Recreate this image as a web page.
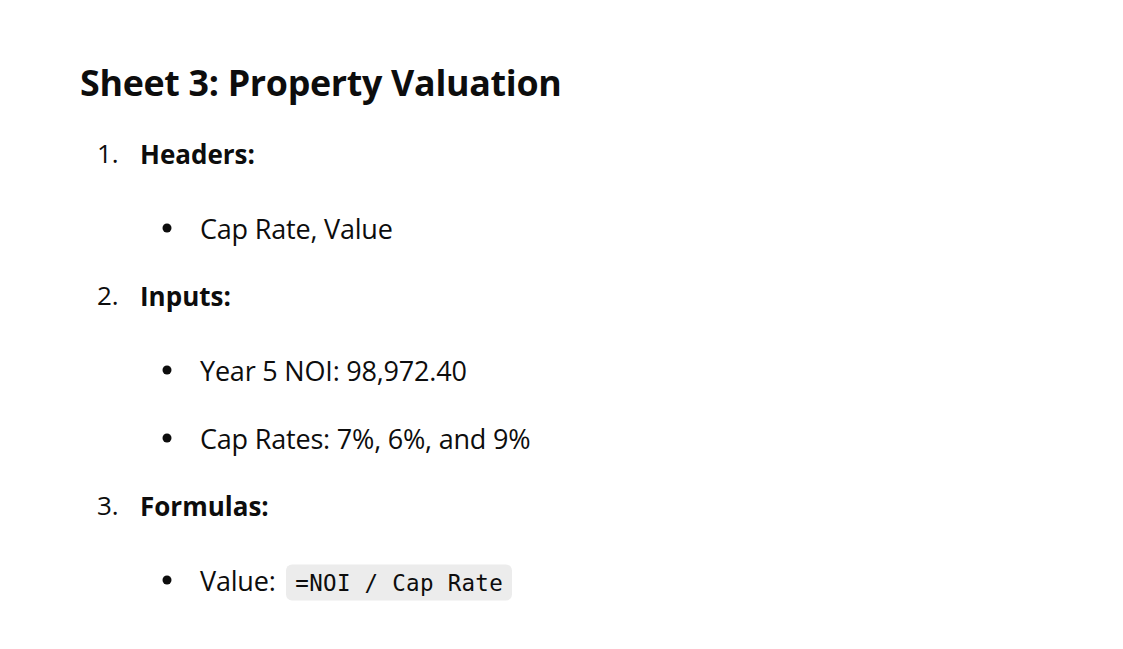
<!DOCTYPE html>
<html>
<head>
<meta charset="utf-8">
<script src="https://cdn.jsdelivr.net/npm/chart.js@4"></script>
<style>
  html, body { margin: 0; padding: 0; background: #fff; width: 1123px; height: 649px; overflow: hidden; }
  body { font-family: 'Open Sans', 'Noto Sans', sans-serif; color: #0d0d0d; position: relative; }
  .t { position: absolute; white-space: nowrap; transform: translateY(-50%); }
  h2 { margin: 0; font-size: 35.8px; font-weight: 700; letter-spacing: -0.3px; }
  .num { font-size: 26px; }
  .b { font-weight: 700; }
  .item { font-size: 27px; letter-spacing: -0.2px; }
  .b { letter-spacing: 0; font-size: 26px; }
  .dot { position: absolute; width: 9px; height: 9px; border-radius: 50%; background: #0d0d0d; transform: translate(-50%, -50%); }
  code { font-family: 'DejaVu Sans Mono', monospace; font-size: 22.5px; letter-spacing: 0.3px; background: #ececec; border-radius: 6px; padding: 5px 9px; margin-left: 4px; }
</style>
</head>
<body>
<script>
const title = 'Sheet 3: Property Valuation';
const sections = [
  { n: '1.', label: 'Headers:', y: 153, items: [{ y: 228, text: 'Cap Rate, Value' }] },
  { n: '2.', label: 'Inputs:', y: 295, items: [{ y: 370, text: 'Year 5 NOI: 98,972.40' }, { y: 438, text: 'Cap Rates: 7%, 6%, and 9%' }] },
  { n: '3.', label: 'Formulas:', y: 505, items: [{ y: 580, text: 'Value: ', code: '=NOI / Cap Rate' }] }
];

function add(html, x, y, cls) {
  const d = document.createElement('div');
  d.className = 't ' + (cls || '');
  d.style.left = x + 'px';
  d.style.top = y + 'px';
  d.innerHTML = html;
  document.body.appendChild(d);
}
add('<h2>' + title + '</h2>', 80, 82);
for (const s of sections) {
  add(s.n, 97, s.y, 'num');
  add('<span class="b">' + s.label + '</span>', 140, s.y, 'item');
  for (const it of s.items) {
    const dot = document.createElement('div');
    dot.className = 'dot';
    dot.style.left = '167px';
    dot.style.top = it.y + 'px';
    document.body.appendChild(dot);
    add(it.text + (it.code ? '<code>' + it.code + '</code>' : ''), 200, it.y, 'item');
  }
}
</script>
</body>
</html>
